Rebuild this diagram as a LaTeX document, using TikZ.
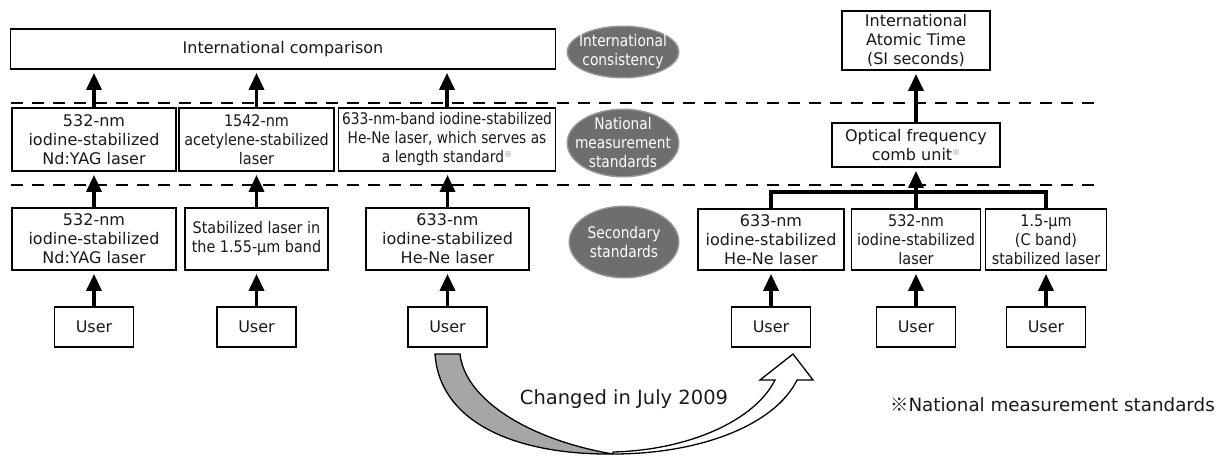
\documentclass[tikz,border=0pt]{standalone}
\usepackage{fontspec}
\setmainfont{DejaVu Sans}
\newfontfamily\slimfont[FakeStretch=0.9]{DejaVu Sans}
\newfontfamily\tightfont[FakeStretch=0.86]{DejaVu Sans}
\newfontfamily\jpfont{Noto Sans CJK JP}
\usetikzlibrary{arrows.meta}
\newcommand{\refmark}{\raisebox{0.6ex}{\jpfont\fontsize{8}{8}\selectfont\textcolor{black!55}{※}}}

\begin{document}
\begin{tikzpicture}[x=1pt, y=-1pt,
  every node/.style = {align=center, inner sep=0pt, text=black!90,
    font=\fontsize{16}{19}\selectfont},
  box/.style = {draw=black, line width=1.8pt},
  user/.style = {box, minimum width=79pt, minimum height=40pt},
  up/.style = {-{Triangle[length=17pt,width=15pt]}, line width=3.5pt,
    shorten >=3pt},
  level/.style = {line width=2.5pt, dash pattern=on 12pt off 9pt},
  tagfill/.style = {fill=black!57},
  tagglow/.style = {fill=black!40},
  tagtext/.style = {text=white, font=\tightfont\fontsize{16}{19}\selectfont}]
  \useasboundingbox (0,0) rectangle (1222,455);

  % levels
  \draw[level] (11,103) -- (1102,103);
  \draw[level] (11,185) -- (1102,185);
  \fill[tagglow] (623,52) ellipse [x radius=56.5pt, y radius=26.5pt];
  \fill[tagfill] (623,52) ellipse [x radius=55pt, y radius=25pt]
    node[tagtext] (tagint) {International\\consistency};
  \fill[tagglow] (623,143) ellipse [x radius=56.5pt, y radius=34.5pt];
  \fill[tagfill] (623,143) ellipse [x radius=55pt, y radius=33pt]
    node[tagtext] (tagnat) {National\\measurement\\standards};
  \fill[tagglow] (624,242) ellipse [x radius=55.5pt, y radius=36.5pt];
  \fill[tagfill] (624,242) ellipse [x radius=54pt, y radius=35pt]
    node[tagtext] (tagsec) {Secondary\\standards};

  % before July 2009
  \node[box, minimum width=545pt, minimum height=40pt] (cmp) at (283,49) {International comparison};
  \node[box, minimum width=164pt, minimum height=63pt] (nat1) at (94,139.5)
    {532-nm\\iodine-stabilized\\Nd:YAG laser};
  \node[box, minimum width=155pt, minimum height=63pt,
    font=\slimfont\fontsize{16}{19}\selectfont] (nat2) at (256.5,139.5)
    {1542-nm\\acetylene-stabilized\\laser};
  \node[box, minimum width=217pt, minimum height=63pt,
    font=\tightfont\fontsize{16}{19}\selectfont] (nat3) at (447,139.5)
    {633-nm-band iodine-stabilized\\He-Ne laser, which serves as\\a length standard\refmark};
  \node[box, minimum width=164pt, minimum height=62pt] (sec1) at (94,239)
    {532-nm\\iodine-stabilized\\Nd:YAG laser};
  \node[box, minimum width=143pt, minimum height=62pt,
    font=\slimfont\fontsize{16}{19}\selectfont] (sec2) at (256.5,239)
    {Stabilized laser in\\the 1.55-µm band};
  \node[box, minimum width=163pt, minimum height=62pt] (sec3) at (447.5,239)
    {633-nm\\iodine-stabilized\\He-Ne laser};
  \node[user] (usr1) at (94,327) {User};
  \node[user] (usr2) at (256.5,327) {User};
  \node[user] (usr3) at (447.5,327) {User};

  \draw[up] (nat1.north) -- (nat1.north |- cmp.south);
  \draw[up] (nat2.north) -- (nat2.north |- cmp.south);
  \draw[up] (nat3.north) -- (nat3.north |- cmp.south);
  \draw[up] (sec1.north) -- (nat1.south);
  \draw[up] (sec2.north) -- (nat2.south);
  \draw[up] (sec3.north) -- (sec3.north |- nat3.south);
  \draw[up] (usr1.north) -- (sec1.south);
  \draw[up] (usr2.north) -- (sec2.south);
  \draw[up] (usr3.north) -- (sec3.south);

  % after July 2009
  \node[box, minimum width=148pt, minimum height=59pt] (iat) at (916,40.5)
    {International\\Atomic Time\\(SI seconds)};
  \node[box, minimum width=168pt, minimum height=44pt] (comb) at (916,145)
    {Optical frequency\\comb unit\refmark};
  \node[box, minimum width=146pt, minimum height=61pt] (rsec1) at (771,239.5)
    {633-nm\\iodine-stabilized\\He-Ne laser};
  \node[box, minimum width=129pt, minimum height=61pt,
    font=\slimfont\fontsize{16}{19}\selectfont] (rsec2) at (916,239.5)
    {532-nm\\iodine-stabilized\\laser};
  \node[box, minimum width=121pt, minimum height=61pt,
    font=\slimfont\fontsize{16}{19}\selectfont] (rsec3) at (1046,239.5)
    {1.5-µm\\(C band)\\stabilized laser};
  \node[user] (rusr1) at (771,327) {User};
  \node[user] (rusr2) at (916,327) {User};
  \node[user] (rusr3) at (1046,327) {User};

  \coordinate (join) at (916,192);
  \draw[line width=3.5pt] (rsec1.north) |- (join) -| (rsec3.north);
  \draw[up] (rsec2.north) -- (comb.south);
  \draw[up] (comb.north) -- (iat.south);
  \draw[up] (rusr1.north) -- (rsec1.south);
  \draw[up] (rusr2.north) -- (rsec2.south);
  \draw[up] (rusr3.north) -- (rsec3.south);

  % change arrow
  \filldraw[line width=1.3pt, fill=black!35] (435,354)
    .. controls (440,425) and (520,455) .. (613,454)
    .. controls (530,440) and (465,400) .. (460,354) -- cycle;
  \filldraw[line width=1.3pt, fill=white] (613,454)
    .. controls (700,454) and (775,425) .. (797,380)
    -- (813,380) -- (793,354) -- (760,380) -- (775,380)
    .. controls (755,420) and (690,450) .. (613,452) -- cycle;
  \node[font=\fontsize{19.5}{24}\selectfont] (chg) at (624,399) {Changed in July 2009};
  \node[font=\fontsize{18.3}{24}\selectfont, anchor=east] (note) at (1215,405)
    {{\jpfont ※}National measurement standards};
\end{tikzpicture}
\end{document}
